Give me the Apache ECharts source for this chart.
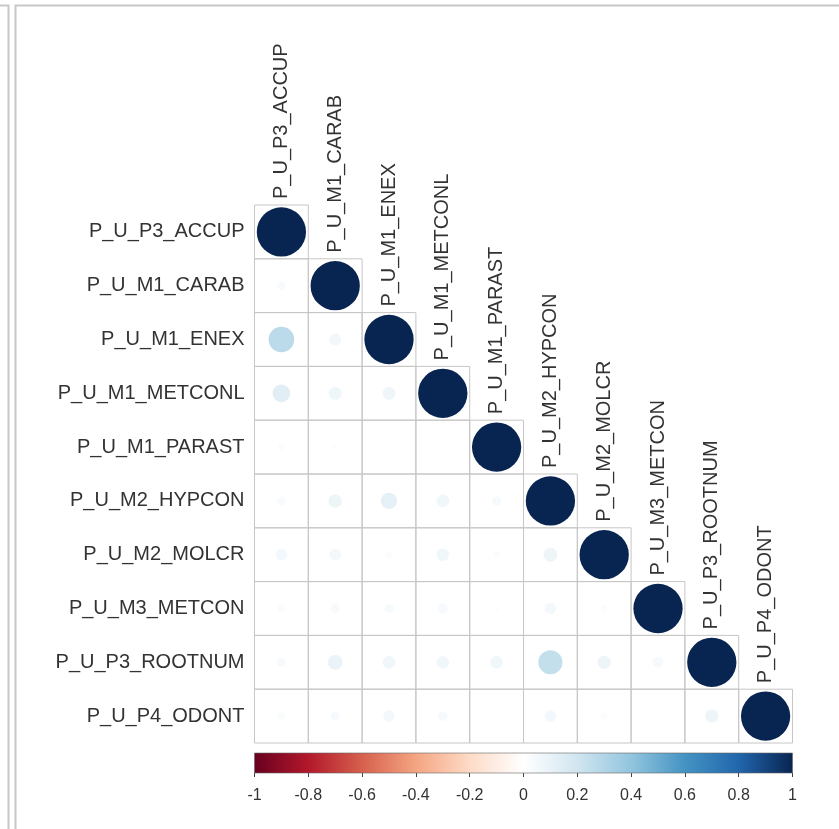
<!DOCTYPE html>
<html>
<head>
<meta charset="utf-8">
<script src="https://cdn.jsdelivr.net/npm/echarts@6/dist/echarts.min.js"></script>
<style>
  html, body { margin: 0; padding: 0; background: #ffffff; }
  #chart { width: 839px; height: 829px; }
</style>
</head>
<body>
<div id="chart"></div>
<script>
// Variable names, in matrix order
const variables = [
  'P_U_P3_ACCUP', 'P_U_M1_CARAB', 'P_U_M1_ENEX', 'P_U_M1_METCONL', 'P_U_M1_PARAST',
  'P_U_M2_HYPCON', 'P_U_M2_MOLCR', 'P_U_M3_METCON', 'P_U_P3_ROOTNUM', 'P_U_P4_ODONT'
];

// Lower triangle of the correlation matrix: row i holds r(i, 0..i-1)
const rowCARAB   = [0.03];
const rowENEX    = [0.27, 0.06];
const rowMETCONL = [0.13, 0.07, 0.07];
const rowPARAST  = [0.02, 0.015, 0.01, 0.01];
const rowHYPCON  = [0.03, 0.075, 0.11, 0.065, 0.035];
const rowMOLCR   = [0.055, 0.055, 0.02, 0.065, 0.02, 0.08];
const rowMETCON  = [0.025, 0.035, 0.035, 0.04, 0.015, 0.055, 0.02];
const rowROOTNUM = [0.035, 0.09, 0.065, 0.065, 0.065, 0.24, 0.075, 0.045];
const rowODONT   = [0.025, 0.035, 0.055, 0.04, 0.01, 0.055, 0.02, 0.01, 0.075];
const lowerRows = [[], rowCARAB, rowENEX, rowMETCONL, rowPARAST, rowHYPCON,
                   rowMOLCR, rowMETCON, rowROOTNUM, rowODONT];
const diagonalValue = 1;

// Colour bar ticks
const barMin = -1, barMax = 1, barStep = 0.2;

// RdBu diverging palette, -1 .. 1
const palette = ['#67001F', '#B2182B', '#D6604D', '#F4A582', '#FDDBC7', '#FFFFFF',
                 '#D1E5F0', '#92C5DE', '#4393C3', '#2166AC', '#082450'];

// [column, row, r] for every cell on or below the diagonal
const cells = [];
lowerRows.forEach(function (vals, i) {
  vals.forEach(function (v, j) { cells.push([j, i, v]); });
  cells.push([i, i, diagonalValue]);
});

const FONT = '"Liberation Sans", Arial, sans-serif';
const chart = echarts.init(document.getElementById('chart'), null, { renderer: 'canvas' });

chart.setOption({
  backgroundColor: '#ffffff',
  animation: false,
  graphic: [
    { type: 'polyline', shape: { points: [[0, 5.5], [8.5, 5.5], [8.5, 829]] },
      style: { stroke: '#c8c8c8', lineWidth: 2, fill: null }, silent: true },
    { type: 'polyline', shape: { points: [[839, 5.5], [15.5, 5.5], [15.5, 829]] },
      style: { stroke: '#c8c8c8', lineWidth: 2, fill: null }, silent: true }
  ],
  grid: [
    { left: 254.5, top: 205, width: 538, height: 538 },
    { left: 254.5, top: 753, width: 538, height: 20 }
  ],
  xAxis: [
    { gridIndex: 0, type: 'category', data: variables, show: false },
    { gridIndex: 1, type: 'value', min: barMin, max: barMax, interval: barStep,
      axisLine: { show: false }, splitLine: { show: false },
      axisTick: { show: true, length: 4, lineStyle: { color: '#444', width: 1 } },
      axisLabel: { fontSize: 16, color: '#333', fontFamily: FONT, margin: 15 } }
  ],
  yAxis: [
    { gridIndex: 0, type: 'category', data: variables, inverse: true,
      axisLine: { show: false }, axisTick: { show: false }, splitLine: { show: false },
      axisLabel: { fontSize: 20, color: '#333', fontFamily: FONT, margin: 10 } },
    { gridIndex: 1, type: 'value', min: 0, max: 1, show: false }
  ],
  visualMap: {
    type: 'continuous', show: false, min: barMin, max: barMax,
    dimension: 2, seriesIndex: 0, inRange: { color: palette }
  },
  series: [
    {
      type: 'custom',
      xAxisIndex: 0, yAxisIndex: 0,
      data: cells,
      renderItem: function (params, api) {
        const col = api.value(0), row = api.value(1), v = api.value(2);
        const c = api.coord([col, row]);
        const s = api.size([1, 1]);
        const children = [
          { type: 'rect',
            shape: { x: c[0] - s[0] / 2, y: c[1] - s[1] / 2, width: s[0], height: s[1] },
            style: { fill: null, stroke: '#c6c6c6', lineWidth: 1 } },
          { type: 'circle',
            shape: { cx: c[0], cy: c[1], r: s[0] * 0.458 * Math.sqrt(Math.abs(v)) },
            style: { fill: api.visual('color') } }
        ];
        if (col === row) {
          children.push({
            type: 'text',
            x: c[0], y: c[1] - s[1] / 2 - 6,
            rotation: Math.PI / 2,
            style: { text: variables[col], fill: '#333', font: '20px ' + FONT,
                     align: 'left', verticalAlign: 'middle' }
          });
        }
        return { type: 'group', children: children };
      }
    },
    {
      type: 'custom',
      xAxisIndex: 1, yAxisIndex: 1,
      data: [[barMin, barMax]],
      renderItem: function (params, api) {
        const p0 = api.coord([api.value(0), 1]);
        const p1 = api.coord([api.value(1), 0]);
        const stops = palette.map(function (col, k) {
          return { offset: k / (palette.length - 1), color: col };
        });
        return {
          type: 'rect',
          shape: { x: p0[0], y: p0[1], width: p1[0] - p0[0], height: p1[1] - p0[1] },
          style: { fill: new echarts.graphic.LinearGradient(0, 0, 1, 0, stops),
                   stroke: '#666', lineWidth: 0.6 }
        };
      }
    }
  ]
});
</script>
</body>
</html>
